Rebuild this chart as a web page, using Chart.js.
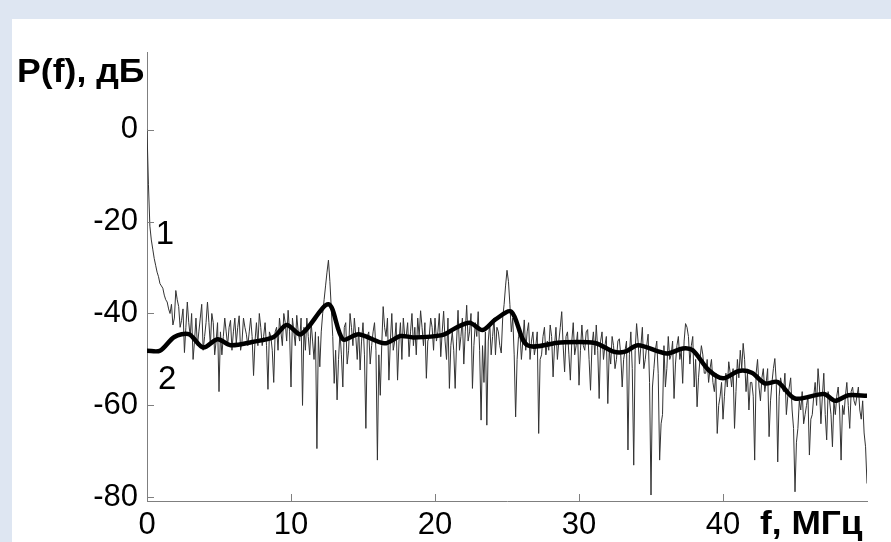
<!DOCTYPE html>
<html>
<head>
<meta charset="utf-8">
<script src="https://cdn.jsdelivr.net/npm/chart.js@4.4.0/dist/chart.umd.min.js"></script>
<style>
html,body{margin:0;padding:0;background:#dee6f2;}
#wrap{position:relative;width:891px;height:542px;}
canvas{display:block;}
</style>
</head>
<body>
<div id="wrap"><canvas id="c" width="891" height="542"></canvas></div>
<script>
// Frequency axis (MHz) and power axis (dB) tick values
const xTicks = [0, 10, 20, 30, 40];
const yTicks = [-80, -60, -40, -20, 0];
const xRange = [0, 50];
const yRange = [-80.8, 16.9];

// Curve 1: raw spectrum. Samples at 0, 0.2, 0.4 ... 50 MHz
const noiseStep = 0.2;
const noisyEven = [
  0, -21, -26, -29.5, -32, -34, -36, -37.5, -40, -42.5,
  -35, -38.5, -41.5, -48.5, -37.5, -45, -50, -41, -44, -38,
  -45, -37.5, -47, -42, -46, -57, -49, -41, -47, -41.5,
  -44, -46.5, -40.5, -46, -43, -47, -41, -53.5, -42, -40,
  -47, -42, -56.5, -45, -55, -43, -41, -47, -42, -39.3,
  -56, -44, -40.4, -46, -60, -48, -45, -42, -50, -69.4,
  -51.6, -40, -34, -28.4, -39, -55.2, -58.8, -44, -56, -42,
  -48, -43, -41, -50, -52.3, -42, -65, -44, -47, -42,
  -71.9, -57.8, -38.5, -45, -54.5, -40, -46, -54.5, -42, -41,
  -45, -49.4, -40, -43, -41, -39.4, -47, -54.1, -45, -43,
  -41, -44, -49.4, -39.5, -50, -56.3, -44, -56.3, -39.3, -45,
  -51, -38.2, -44, -56.3, -42, -39.6, -63.2, -55, -64.3, -42,
  -45, -49, -44, -48.6, -38, -30.6, -38, -41, -62.5, -45,
  -50, -41.4, -44, -50, -44, -47, -66.1, -49, -43, -46,
  -42.5, -53.8, -43, -46, -39.6, -52.7, -44, -54.5, -42, -47,
  -55.6, -42.5, -48, -43.5, -56.7, -44, -42.5, -58.5, -44, -47,
  -59.6, -51, -47, -50, -45.5, -56, -48, -69.7, -44, -73,
  -42.2, -51, -43, -50, -44.5, -79.5, -52, -46, -71.9, -62,
  -56, -45, -49, -58.5, -47, -50, -55.2, -42.2, -45, -47,
  -56, -60.3, -50, -49, -53, -55, -50, -57, -66.1, -58,
  -63, -53, -50.5, -56, -65, -50, -48, -46.5, -57, -61,
  -55, -71.9, -50, -59, -52, -55, -66.8, -55, -49.8, -72.3,
  -54, -57, -62, -56, -61, -78.8, -65, -61, -64, -60,
  -70.8, -62, -55, -52, -64, -53, -67.5, -59, -69, -62,
  -56, -71.9, -62, -55, -65, -56, -60, -56, -63, -66,
  -77
];
// Curve 1: raw spectrum. Samples at 0.1, 0.3, 0.5 ... 49.9 MHz
const noisyOdd = [
  -12, -24, -28, -31, -33.5, -34.5, -37, -39, -38, -41,
  -37, -43, -39, -43, -42, -40, -46, -47, -41, -48,
  -42, -42, -40, -49, -42, -44, -45, -44, -43, -48,
  -41, -43, -48, -41, -44.5, -44, -45, -46, -47, -43,
  -45, -47, -44, -48, -44, -48, -44, -40, -46, -44,
  -41, -47, -44, -41, -43, -41, -49, -46, -44, -45,
  -44, -37, -31, -33, -45, -48, -50, -49, -43, -51,
  -40, -47, -45, -43, -46, -49, -45, -51, -44, -48,
  -49, -47, -43, -41, -46, -48, -42, -46, -50, -45,
  -42, -44, -47, -49, -45, -43, -42, -46, -41, -48,
  -46, -40, -44, -46, -41, -47, -48, -46, -48, -41,
  -44, -46, -40, -47, -45, -48, -47, -44, -46, -49,
  -41, -43, -47, -41, -34, -33, -44, -49, -50, -44,
  -46, -48, -42, -46, -49, -44, -50, -45, -49, -48,
  -45, -47, -50, -43, -47, -45, -49, -46, -49, -44,
  -48, -47, -44, -50, -47, -49, -48, -46, -50, -45,
  -48, -45, -52, -46, -49, -50, -46, -49, -52, -48,
  -46, -47, -52, -47, -55, -56, -48, -53, -64, -47,
  -52, -50, -46, -51, -45, -48, -46, -43, -51, -45,
  -50, -54, -47, -53, -50, -52, -55, -53, -60, -55,
  -58, -56, -53, -52, -57, -54, -52, -50, -53, -55,
  -58, -53, -56, -54, -57, -52, -59, -52, -55, -58,
  -56, -53, -58, -54, -65, -68, -59, -57, -62, -58,
  -63, -58, -60, -56, -58, -62, -57, -62, -59, -58,
  -61, -60, -58, -60, -57, -59, -58, -61, -59, -69
];

// Curve 2: smoothed spectrum
const thickF = [0, 0.9, 1.9, 2.9, 3.9, 4.9, 5.8, 7.3, 8.8, 9.7, 10.7, 12.6, 13.6, 14.7, 16.5, 17.6, 18.5, 20.5, 21.4, 22.4, 23.3, 24.2, 25.3, 26.4, 28.7, 31.1, 32.4, 33.2, 34.1, 36.1, 37.2, 37.9, 39, 40, 41.1, 42, 42.9, 43.8, 45, 47, 47.8, 48.7, 50];
const thickP = [-48.1, -48.1, -45.1, -44.5, -47.4, -45.6, -46.9, -46.2, -45.1, -42.5, -44.5, -38, -45.6, -44.5, -46.5, -44.9, -45.2, -44.7, -43.2, -42, -43.6, -41.3, -39.6, -46.9, -46.3, -46.4, -48.3, -48.3, -46.9, -48.7, -47.6, -48, -52.3, -54.1, -52.5, -52.9, -55.2, -54.9, -58.5, -57.5, -59, -57.8, -57.9];

// Text
const yTitle = 'P(f), дБ';
const xTitle = 'f, МГц';
const curveLabels = [
  {text: '1', f: 1.25, p: -22.8},
  {text: '2', f: 1.4, p: -54.5}
];

const noisyData = [];
noisyEven.forEach((p, i) => {
  noisyData.push({x: +(i * noiseStep).toFixed(2), y: p});
  if (i < noisyOdd.length) noisyData.push({x: +(i * noiseStep + noiseStep / 2).toFixed(2), y: noisyOdd[i]});
});
const thickData = thickF.map((f, i) => ({x: f, y: thickP[i]}));

const FONT = '"Liberation Sans", Arial, sans-serif';
const AXIS = '#7f7f7f';

function stretchedText(ctx, text, x, y, sx) {
  ctx.save();
  ctx.translate(x, y);
  ctx.scale(sx, 1);
  ctx.fillText(text, 0, 0);
  ctx.restore();
}

const decor = {
  id: 'decor',
  beforeDraw(chart) {
    const ctx = chart.ctx;
    ctx.save();
    ctx.fillStyle = '#dee6f2';
    ctx.fillRect(0, 0, chart.width, chart.height);
    ctx.fillStyle = '#ffffff';
    ctx.fillRect(12, 19, chart.width - 12, chart.height - 19);
    ctx.restore();
  },
  afterDraw(chart) {
    const ctx = chart.ctx;
    const xs = chart.scales.x, ys = chart.scales.y;
    const a = chart.chartArea;
    ctx.save();
    ctx.strokeStyle = AXIS;
    ctx.lineWidth = 1;
    ctx.beginPath();
    yTicks.forEach(v => {
      const y = Math.round(ys.getPixelForValue(v)) + 0.5;
      ctx.moveTo(a.left, y); ctx.lineTo(a.left + 7, y);
    });
    xTicks.forEach(v => {
      const x = Math.round(xs.getPixelForValue(v)) + 0.5;
      ctx.moveTo(x, a.bottom); ctx.lineTo(x, a.bottom - 7);
    });
    ctx.stroke();
    ctx.fillStyle = '#000';
    ctx.textBaseline = 'alphabetic';
    ctx.textAlign = 'left';
    ctx.font = 'bold 33px ' + FONT;
    stretchedText(ctx, yTitle, 17, 82, 1.08);
    stretchedText(ctx, xTitle, 760, 534, 1.07);
    ctx.font = '33px ' + FONT;
    ctx.textBaseline = 'middle';
    ctx.textAlign = 'center';
    curveLabels.forEach(l => {
      ctx.fillText(l.text, xs.getPixelForValue(l.f), ys.getPixelForValue(l.p));
    });
    ctx.restore();
  }
};

new Chart(document.getElementById('c'), {
  type: 'line',
  data: {
    datasets: [
      {label: '2', data: thickData, borderColor: '#000', borderWidth: 4.5, pointRadius: 0, tension: 0.3, fill: false},
      {label: '1', data: noisyData, borderColor: '#333333', borderWidth: 1, pointRadius: 0, tension: 0, fill: false}
    ]
  },
  options: {
    responsive: false,
    animation: false,
    devicePixelRatio: 1,
    layout: {padding: {top: 52, right: 24, left: 0, bottom: 0}},
    plugins: {legend: {display: false}, tooltip: {enabled: false}, title: {display: false}},
    scales: {
      x: {
        type: 'linear', min: xRange[0], max: xRange[1],
        afterBuildTicks: s => { s.ticks = xTicks.map(v => ({value: v})); },
        afterFit: s => { s.height = 41; },
        grid: {display: false, drawTicks: false, tickLength: 0},
        border: {display: true, color: AXIS, width: 1},
        ticks: {autoSkip: false, maxRotation: 0, padding: 6, color: '#000', font: {family: FONT, size: 31}}
      },
      y: {
        type: 'linear', min: yRange[0], max: yRange[1],
        afterBuildTicks: s => { s.ticks = yTicks.map(v => ({value: v})); },
        afterFit: s => { s.width = 147; },
        grid: {display: false, drawTicks: false, tickLength: 0},
        border: {display: true, color: AXIS, width: 1},
        ticks: {autoSkip: false, padding: 9, color: '#000', font: {family: FONT, size: 31}}
      }
    }
  },
  plugins: [decor]
});
</script>
</body>
</html>
